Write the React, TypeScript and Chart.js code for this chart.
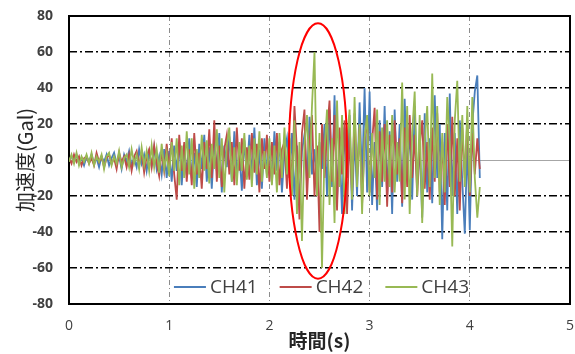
import React, { useEffect, useRef } from 'react';
import { Chart, registerables } from 'chart.js';

Chart.register(...registerables);

// sampling grid of the records (seconds)
const SAMPLE_INTERVAL = 0.025;

const SERIES_NAMES = ['CH41', 'CH42', 'CH43'];
const SERIES_COLORS = ['#4a7ebb', '#be4b48', '#98b954'];

// acceleration (Gal), one value per sample, t = 0 ... 4.1 s
const CH41 = [
  0, 2, -1, 3, -2, 1, -3, 2,
  -1, 3, -2, 1, -4, 2, -1, 3,
  -3, 1, 4, -2, 2, -5, 3, -1,
  5, -3, 1, -4, 6, -2, 3, -6,
  4, -3, 7, -5, 2, -8, 6, -10,
  5, -12, 8, -6, 10, -14, 6, -8,
  12, -10, 4, -15, 9, -5, 14, -12,
  7, -16, 11, -6, 15, -18, 8, -4,
  13, -12, 16, -9, 5, -17, 11, -7,
  14, -10, 18, -14, 6, -16, 12, -8,
  8, -13, 16, -6, 10, -18, 4, 12,
  -10, 15, -22, 8, -25, 5, 14, -12,
  24, -8, 6, -18, 10, -5, 20, -20,
  28, -15, 36, -22, 10, -30, 18, -10,
  25, -28, 14, -20, 32, -12, 40, -18,
  38, -25, 10, -28, 22, -15, 30, -20,
  16, -30, 28, -12, 20, -26, 34, -8,
  18, -22, 30, -14, 8, -32, 26, -18,
  12, -24, 36, -10, 20, -44, 15, -28,
  37, -20, 15, -30, 22, -12, -41, 10,
  -39, 20, 38, 47, -10,
];

const CH42 = [
  1, -2, 3, -1, 2, -3, 1, 2,
  -2, 1, -3, 4, -1, 2, -4, 1,
  3, -2, 1, -5, 4, -1, 2, -4,
  3, -6, 2, 5, -3, 4, -7, 2,
  6, -4, 8, -2, -9, 5, -6, 9,
  -5, 12, -8, -22, 14, -6, 10, -12,
  6, -14, 15, -8, 4, -16, 10, -5,
  17, -10, 22, -12, 8, -15, 6, 14,
  -8, 10, -14, 18, -6, 12, -16, 7,
  -11, 15, -7, 9, -18, 12, -5, 14,
  -12, 10, -8, 15, -14, 6, 10, -16,
  12, -15, 30, 5, -33, 15, 28, -22,
  10, 25, -20, 8, -40, 20, -10, 15,
  33, -12, 25, -28, 18, -8, 22, -30,
  15, -20, 26, -10, 18, -25, 12, 22,
  -18, 10, 29, -22, 16, -12, 20, -26,
  14, -18, 22, -8, 12, -24, 18, -15,
  25, -10, 14, -20, 8, 22, -16, 10,
  -22, 18, -12, 26, -18, 10, -25, 20,
  -15, 24, -20, 12, -28, 18, -10, 22,
  -20, 15, -8, 12, -5,
];

const CH43 = [
  -1, 3, -2, 4, -3, 2, -1, 3,
  -2, 4, -3, 2, -1, 3, -5, 2,
  4, -3, 2, -2, 5, -4, 1, 3,
  -4, 6, -2, 3, -5, 7, -3, 5,
  -6, 8, -4, 6, -7, 9, -5, 4,
  -9, 10, -6, 12, -14, 8, -10, 16,
  -8, 12, -16, 6, -10, 14, -6, 11,
  -13, 9, -5, 17, -10, 12, -18, 8,
  18, -12, 7, -14, 10, -6, 15, -11,
  8, -15, 12, -8, 16, -12, 5, -10,
  12, -14, 8, -18, 15, -10, 18, -8,
  15, -20, 22, -30, 10, -45, 8, 25,
  -10, 30, 60, -20, 15, -60, 5, 28,
  -25, 12, -35, 33, -15, 25, -30, 10,
  28, -22, 35, -15, 20, -30, 12, 25,
  -20, 15, -10, 28, -25, 18, -12, 22,
  -15, 25, -18, 10, -12, 43, -22, 30,
  -30, 15, 38, -20, 25, -35, 10, 30,
  -15, 48, -10, 30, -25, 15, -18, 35,
  10, -48, 22, 44, -12, 25, -15, 30,
  -18, 35, -10, -32, -15,
];

const SERIES_VALUES = [CH41, CH42, CH43];

const X_TICKS = [0, 1, 2, 3, 4, 5];
const Y_TICKS = [-80, -60, -40, -20, 0, 20, 40, 60, 80];

const X_TITLE = '時間(s)';
const Y_TITLE = '加速度(Gal)';

// highlighted region (data units): centre time, centre value, half extents
const HIGHLIGHT_CENTER_TIME = 2.485;
const HIGHLIGHT_CENTER_VALUE = 5;
const HIGHLIGHT_HALF_TIME = 0.29;
const HIGHLIGHT_HALF_VALUE = 71;

const framePlugin = {
  id: 'frame',
  beforeDatasetsDraw(chart: any) {
    const { ctx, chartArea } = chart;
    ctx.save();
    ctx.strokeStyle = '#000';
    ctx.lineWidth = 2;
    ctx.strokeRect(chartArea.left, chartArea.top, chartArea.right - chartArea.left, chartArea.bottom - chartArea.top);
    ctx.restore();
  },
};

const overlayPlugin = {
  id: 'overlay',
  afterDatasetsDraw(chart: any) {
    const { ctx, chartArea, scales } = chart;
    const xs = scales.x;
    const ys = scales.y;
    // ellipse
    const cx = xs.getPixelForValue(HIGHLIGHT_CENTER_TIME);
    const cy = ys.getPixelForValue(HIGHLIGHT_CENTER_VALUE);
    const rx = xs.getPixelForValue(HIGHLIGHT_CENTER_TIME + HIGHLIGHT_HALF_TIME) - cx;
    const ry = cy - ys.getPixelForValue(HIGHLIGHT_CENTER_VALUE + HIGHLIGHT_HALF_VALUE);
    ctx.save();
    ctx.strokeStyle = '#ff0000';
    ctx.lineWidth = 2;
    ctx.beginPath();
    ctx.ellipse(cx, cy, rx, ry, 0, 0, Math.PI * 2);
    ctx.stroke();
    ctx.restore();

    // legend inside the plot
    const ds = chart.data.datasets;
    ctx.save();
    ctx.font = '19px "Open Sans"';
    ctx.textBaseline = 'middle';
    ctx.textAlign = 'left';
    const lineLen = 32;
    const gapLT = 4;
    const gapItems = 22;
    const widths = ds.map((d: any) => lineLen + gapLT + ctx.measureText(d.label).width);
    const total = widths.reduce((a: number, b: number) => a + b, 0) + gapItems * (ds.length - 1);
    let x = (chartArea.left + chartArea.right) / 2 - total / 2 + 2;
    const y = chartArea.bottom - 17;
    ds.forEach((d: any, i: number) => {
      ctx.strokeStyle = d.borderColor;
      ctx.lineWidth = 2;
      ctx.beginPath();
      ctx.moveTo(x, y);
      ctx.lineTo(x + lineLen, y);
      ctx.stroke();
      ctx.fillStyle = '#404040';
      ctx.fillText(d.label, x + lineLen + gapLT, y + 1);
      x += widths[i] + gapItems;
    });
    ctx.restore();
  },
};

export default function App() {
  const canvasRef = useRef<HTMLCanvasElement | null>(null);

  useEffect(() => {
    if (!canvasRef.current) return;
    const datasets = SERIES_VALUES.map((vals, s) => ({
      label: SERIES_NAMES[s],
      data: vals.map((v, i) => ({ x: i * SAMPLE_INTERVAL, y: v })),
      borderColor: SERIES_COLORS[s],
      backgroundColor: SERIES_COLORS[s],
      borderWidth: 1.8,
      pointRadius: 0,
      tension: 0,
      fill: false,
      order: SERIES_VALUES.length - s,
    }));

    const chart = new Chart(canvasRef.current, {
      type: 'line',
      data: { datasets },
      plugins: [framePlugin, overlayPlugin],
      options: {
        animation: false,
        responsive: false,
        devicePixelRatio: 1,
        layout: { padding: { left: 0, right: 5, top: 16, bottom: 0 } },
        plugins: { legend: { display: false }, tooltip: { enabled: false } },
        scales: {
          x: {
            type: 'linear',
            min: X_TICKS[0],
            max: X_TICKS[X_TICKS.length - 1],
            afterBuildTicks: (s: any) => { s.ticks = X_TICKS.map((v) => ({ value: v })); },
            afterFit: (s: any) => { s.height = 50; s.paddingLeft = 0; s.paddingRight = 0; },
            ticks: {
              padding: 14,
              color: '#404040',
              font: { family: '"Open Sans"', size: 14 },
              maxRotation: 0,
            },
            grid: {
              drawTicks: false,
              color: (c: any) => (c.tick && (c.tick.value === X_TICKS[0] || c.tick.value === X_TICKS[X_TICKS.length - 1]) ? 'rgba(0,0,0,0)' : '#8c8c8c'),
              lineWidth: 1,
            },
            border: { display: false, dash: [5, 3, 1, 3] },
            title: {
              display: true,
              text: X_TITLE,
              color: '#262626',
              font: { family: '"Noto Sans CJK JP"', size: 19, weight: 'bold' },
              padding: { top: 0, bottom: 2 },
            },
          },
          y: {
            type: 'linear',
            min: Y_TICKS[0],
            max: Y_TICKS[Y_TICKS.length - 1],
            afterBuildTicks: (s: any) => { s.ticks = Y_TICKS.map((v) => ({ value: v })); },
            afterFit: (s: any) => { s.width = 69; s.paddingTop = 0; s.paddingBottom = 0; },
            ticks: {
              padding: 16,
              color: '#404040',
              font: { family: '"Open Sans"', size: 14, weight: 'bold' },
            },
            grid: {
              drawTicks: false,
              color: (c: any) => {
                const v = c.tick ? c.tick.value : null;
                if (v === Y_TICKS[0] || v === Y_TICKS[Y_TICKS.length - 1]) return 'rgba(0,0,0,0)';
                if (v === 0) return '#a6a6a6';
                return '#000000';
              },
              lineWidth: (c: any) => (c.tick && c.tick.value === 0 ? 1 : 1.5),
            },
            border: {
              display: false,
              dash: (c: any) => (c.tick && c.tick.value === 0 ? [] : [8, 3, 2, 3]),
            },
            title: {
              display: true,
              text: Y_TITLE,
              color: '#262626',
              font: { family: '"Noto Sans CJK JP"', size: 20 },
              padding: { top: 13, bottom: 0 },
            },
          },
        },
      },
    } as any);
    return () => chart.destroy();
  }, []);

  return (
    <div style={{ position: 'absolute', left: 0, top: 0, width: 575, height: 354, background: '#fff' }}>
      <canvas ref={canvasRef} width={575} height={354} style={{ width: 575, height: 354 }} />
    </div>
  );
}
